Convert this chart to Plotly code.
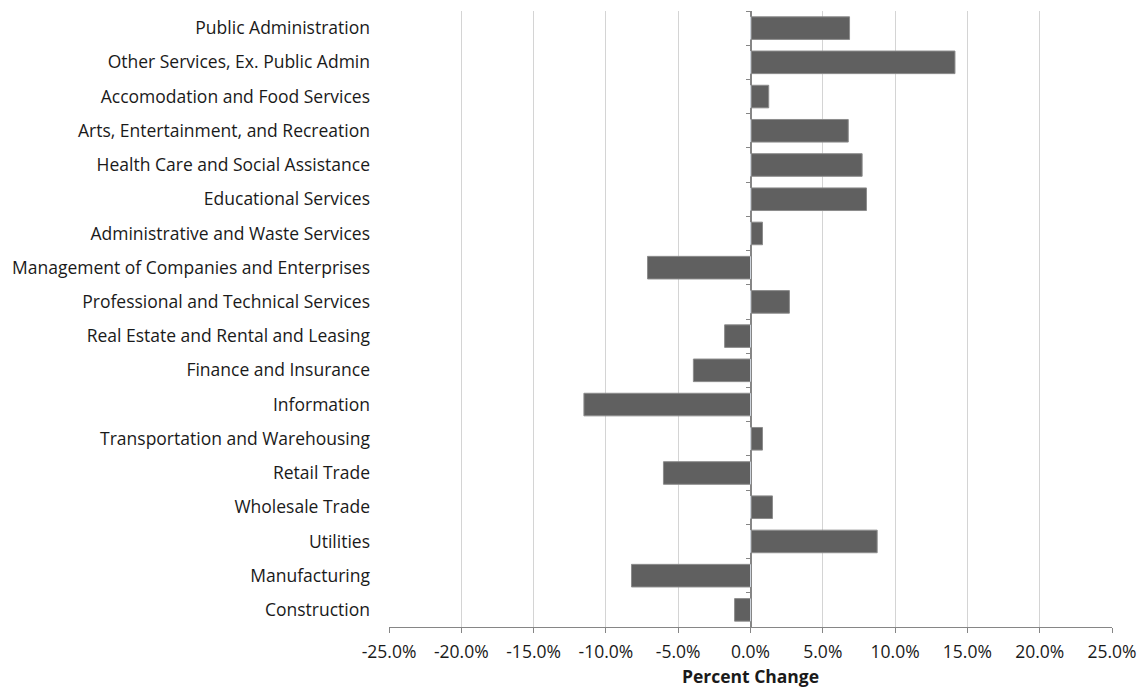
import plotly.graph_objects as go

# Industries listed bottom-to-top as they appear on the vertical axis
industries = [
    "Construction",
    "Manufacturing",
    "Utilities",
    "Wholesale Trade",
    "Retail Trade",
    "Transportation and Warehousing",
    "Information",
    "Finance and Insurance",
    "Real Estate and Rental and Leasing",
    "Professional and Technical Services",
    "Management of Companies and Enterprises",
    "Administrative and Waste Services",
    "Educational Services",
    "Health Care and Social Assistance",
    "Arts, Entertainment, and Recreation",
    "Accomodation and Food Services",
    "Other Services, Ex. Public Admin",
    "Public Administration",
]

# Percent change (as fractions)
pct_change = [
    -0.0110, -0.0823, 0.0876, 0.0152, -0.0602, 0.0083,
    -0.1152, -0.0395, -0.0179, 0.0269, -0.0712, 0.0083,
    0.0802, 0.0772, 0.0676, 0.0126, 0.1414, 0.0685,
]

x_ticks = [-0.25, -0.20, -0.15, -0.10, -0.05, 0.0, 0.05, 0.10, 0.15, 0.20, 0.25]
x_tick_labels = ["-25.0%", "-20.0%", "-15.0%", "-10.0%", "-5.0%", "0.0%",
                 "5.0%", "10.0%", "15.0%", "20.0%", "25.0%"]

FONT = "Open Sans"
TEXT = "#1a1a1a"
SIZE = 17.5

fig = go.Figure()
fig.add_trace(go.Bar(
    y=industries,
    x=pct_change,
    orientation="h",
    marker=dict(color="#606060", line=dict(color="#8c8c8c", width=1)),
    hoverinfo="x+y",
    showlegend=False,
))
# Invisible companion trace that carries the category axis drawn at zero
fig.add_trace(go.Bar(
    y=industries,
    x=[0] * len(industries),
    orientation="h",
    yaxis="y2",
    marker=dict(color="rgba(0,0,0,0)"),
    hoverinfo="skip",
    showlegend=False,
))

fig.update_layout(
    width=1143,
    height=690,
    margin=dict(l=389, r=31, t=11, b=63),
    paper_bgcolor="white",
    plot_bgcolor="white",
    bargap=0.34,
    barmode="overlay",
    font=dict(family=FONT, size=SIZE, color=TEXT),
    xaxis=dict(
        range=[-0.25, 0.25],
        tickvals=x_ticks,
        ticktext=x_tick_labels,
        automargin=False,
        showgrid=True,
        gridcolor="#d4d4d4",
        gridwidth=1,
        zeroline=True,
        zerolinecolor="#868686",
        zerolinewidth=1,
        showline=True,
        linecolor="#868686",
        linewidth=1,
        ticks="outside",
        ticklen=5,
        tickcolor="#868686",
        ticklabelstandoff=4,
        tickfont=dict(family=FONT, size=SIZE, color=TEXT),
        title=dict(text="<b>Percent Change</b>",
                   font=dict(family=FONT, size=SIZE, color=TEXT), standoff=8),
        fixedrange=True,
    ),
    yaxis=dict(
        type="category",
        categoryorder="array",
        categoryarray=industries,
        automargin=False,
        showgrid=False,
        zeroline=False,
        showline=False,
        ticks="",
        ticklabelstandoff=18,
        tickfont=dict(family=FONT, size=SIZE, color=TEXT),
        fixedrange=True,
    ),
    yaxis2=dict(
        matches="y",
        overlaying="y",
        anchor="free",
        position=0.5,
        side="left",
        automargin=False,
        showticklabels=False,
        showgrid=False,
        zeroline=False,
        showline=True,
        linecolor="#868686",
        linewidth=1,
        ticks="outside",
        tickson="boundaries",
        ticklen=5,
        tickcolor="#868686",
        fixedrange=True,
    ),
)

fig.write_html("out.html")
